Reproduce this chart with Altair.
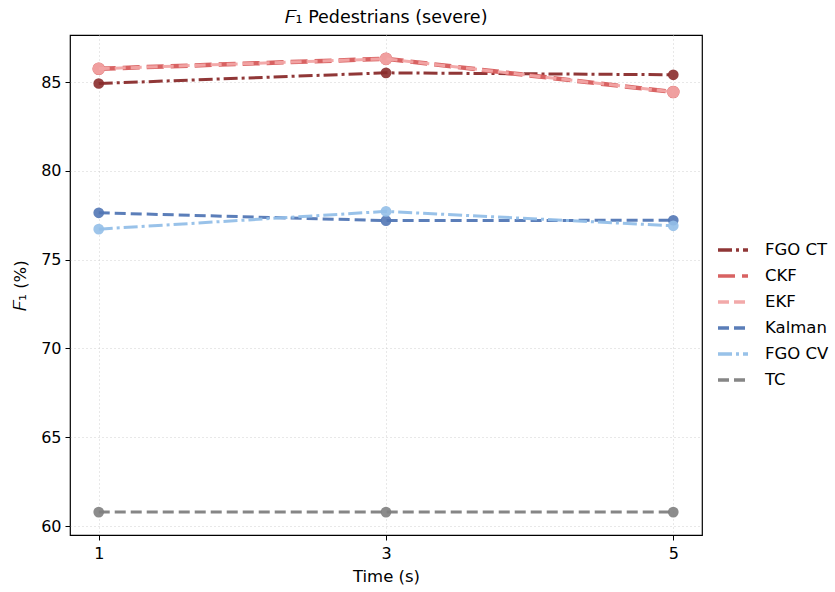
import altair as alt
import pandas as pd

series = ["FGO CT", "CKF", "EKF", "Kalman", "FGO CV", "TC"]
times = [1, 3, 5]
fgo_ct = [84.92, 85.52, 85.41]
ckf = [85.75, 86.31, 84.44]
ekf = [85.75, 86.31, 84.44]
kalman = [77.64, 77.20, 77.22]
fgo_cv = [76.72, 77.72, 76.91]
tc = [60.79, 60.79, 60.79]

values = [fgo_ct, ckf, ekf, kalman, fgo_cv, tc]
colors = ["#8a2c2c", "#d65a5a", "#f2a5a5", "#5277b5", "#93bfe8", "#808080"]
dashes = [[14, 4, 3, 4], [17, 7], [11, 5], [11, 5], [14, 4, 3, 4], [11, 5]]
widths = [3, 4.5, 3, 3, 3, 3]
msize = [115, 160, 150, 115, 115, 115]

rows = []
for s, vals in zip(series, values):
    for t, v in zip(times, vals):
        rows.append({"series": s, "time": t, "f1": v})
df = pd.DataFrame(rows)

color_scale = alt.Scale(domain=series, range=colors)
dash_scale = alt.Scale(domain=series, range=dashes)

x_enc = alt.X("time:Q", scale=alt.Scale(domain=[0.8, 5.2], nice=False, zero=False),
              axis=alt.Axis(values=times, title="Time (s)", format="d"))
y_enc = alt.Y("f1:Q", scale=alt.Scale(domain=[59.5, 87.65], nice=False, zero=False),
              axis=alt.Axis(values=[60, 65, 70, 75, 80, 85], title="𝐹₁ (%)"))

legend = alt.Legend(title=None, orient="none", legendX=646, legendY=198,
                    symbolType="stroke", symbolSize=900, symbolStrokeWidth=3.5,
                    rowPadding=0, labelOffset=15, labelFontSize=16.5, labelLimit=200,
                    labelFont="DejaVu Sans", labelColor="#000000")

layers = []
for i, s in enumerate(series):
    base = alt.Chart(df).transform_filter(alt.datum.series == s)
    line = base.mark_line(strokeWidth=widths[i], opacity=0.95, strokeCap="butt").encode(
        x=x_enc, y=y_enc,
        color=alt.Color("series:N", scale=color_scale, legend=legend),
        strokeDash=alt.StrokeDash("series:N", scale=dash_scale, legend=legend),
    )
    pts = base.mark_circle(size=msize[i], opacity=0.9, color=colors[i]).encode(
        x=x_enc, y=y_enc
    )
    layers.append(line)
    layers.append(pts)

chart = alt.layer(*layers).properties(
    width=632, height=500,
    title=alt.Title("𝐹₁ Pedestrians (severe)", fontSize=17.5, fontWeight="normal",
                    font="DejaVu Sans", color="#000000", anchor="middle", offset=9),
    autosize=alt.AutoSizeParams(type="none"),
    padding={"left": 70, "top": 35, "right": 133, "bottom": 57},
).configure_view(stroke="#000000", strokeWidth=1.2).configure_axis(
    labelFont="DejaVu Sans", titleFont="DejaVu Sans", labelFontSize=16, titleFontSize=16.5,
    titleFontWeight="normal", labelColor="#000000", titleColor="#000000",
    tickColor="#000000", tickSize=5, domain=False,
    grid=True, gridColor="#cccccc", gridDash=[1, 3], gridWidth=0.9,
).configure_axisX(labelPadding=5, titlePadding=7).configure_axisY(labelPadding=4, titlePadding=12)

chart.save("out.html", embed_options={"renderer": "svg", "actions": False})
